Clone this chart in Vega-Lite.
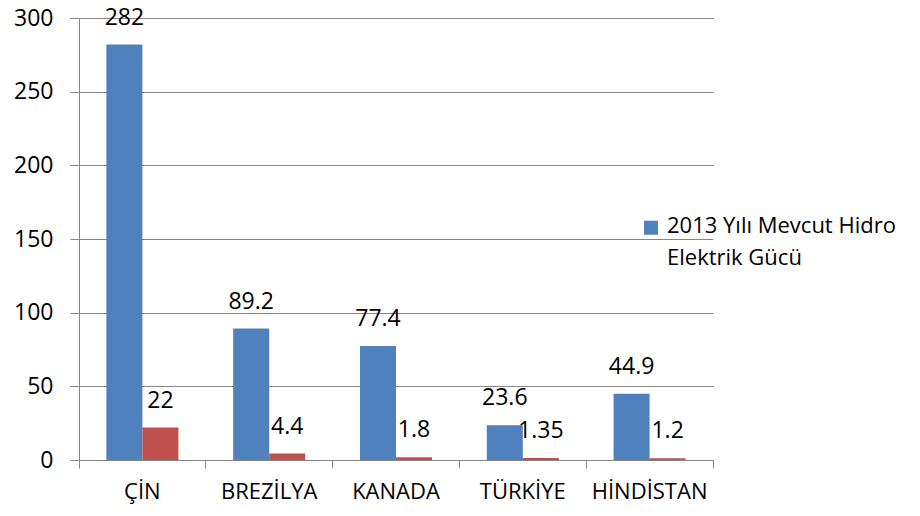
{
  "$schema": "https://vega.github.io/schema/vega-lite/v6.json",
  "width": 634,
  "height": 442,
  "autosize": {"type": "none"},
  "padding": {"left": 79, "top": 18, "right": 207, "bottom": 56},
  "background": "white",
  "data": {
    "values": [
      {"ulke": "ÇİN", "seri": "2013 Yılı Mevcut Hidro Elektrik Gücü", "deger": 282},
      {"ulke": "ÇİN", "seri": "İnşa Halindeki Hidro Elektrik Gücü", "deger": 22},
      {"ulke": "BREZİLYA", "seri": "2013 Yılı Mevcut Hidro Elektrik Gücü", "deger": 89.2},
      {"ulke": "BREZİLYA", "seri": "İnşa Halindeki Hidro Elektrik Gücü", "deger": 4.4},
      {"ulke": "KANADA", "seri": "2013 Yılı Mevcut Hidro Elektrik Gücü", "deger": 77.4},
      {"ulke": "KANADA", "seri": "İnşa Halindeki Hidro Elektrik Gücü", "deger": 1.8},
      {"ulke": "TÜRKİYE", "seri": "2013 Yılı Mevcut Hidro Elektrik Gücü", "deger": 23.6},
      {"ulke": "TÜRKİYE", "seri": "İnşa Halindeki Hidro Elektrik Gücü", "deger": 1.35},
      {"ulke": "HİNDİSTAN", "seri": "2013 Yılı Mevcut Hidro Elektrik Gücü", "deger": 44.9},
      {"ulke": "HİNDİSTAN", "seri": "İnşa Halindeki Hidro Elektrik Gücü", "deger": 1.2}
    ]
  },
  "encoding": {
    "x": {
      "field": "ulke",
      "type": "nominal",
      "sort": ["ÇİN", "BREZİLYA", "KANADA", "TÜRKİYE", "HİNDİSTAN"],
      "scale": {"paddingInner": 0, "paddingOuter": 0},
      "axis": {
        "title": null,
        "labelAngle": 0,
        "labelFont": "Open Sans",
        "labelFontSize": 22,
        "labelColor": "black",
        "labelPadding": 13,
        "bandPosition": 1,
        "tickExtra": true,
        "tickSize": 8,
        "tickColor": "#868686",
        "domainColor": "#868686",
        "grid": false
      }
    },
    "xOffset": {
      "field": "seri",
      "sort": ["2013 Yılı Mevcut Hidro Elektrik Gücü", "İnşa Halindeki Hidro Elektrik Gücü"],
      "scale": {"paddingInner": 0, "paddingOuter": 0.76}
    },
    "y": {
      "field": "deger",
      "type": "quantitative",
      "scale": {"domain": [0, 300]},
      "axis": {
        "title": null,
        "values": [0, 50, 100, 150, 200, 250, 300],
        "grid": true,
        "gridColor": "#868686",
        "domainColor": "#868686",
        "tickColor": "#868686",
        "tickSize": 9,
        "labelFont": "Open Sans",
        "labelFontSize": 23,
        "labelColor": "black",
        "labelPadding": 17
      }
    }
  },
  "layer": [
    {
      "mark": {"type": "bar"},
      "encoding": {
        "color": {
          "field": "seri",
          "type": "nominal",
          "scale": {
            "domain": ["2013 Yılı Mevcut Hidro Elektrik Gücü", "İnşa Halindeki Hidro Elektrik Gücü"],
            "range": ["#4F81BD", "#C0504D"]
          },
          "legend": {
            "orient": "none",
            "legendX": 561,
            "legendY": 204,
            "values": ["2013 Yılı Mevcut Hidro Elektrik Gücü"],
            "title": null,
            "padding": 0,
            "labelExpr": "['2013 Yılı Mevcut Hidro', 'Elektrik Gücü']",
            "labelFont": "Open Sans",
            "labelFontSize": 22,
            "labelColor": "black",
            "labelLimit": 400,
            "labelBaseline": "alphabetic",
            "labelOffset": 5,
            "symbolType": "M-1,-1.75H1V0.25H-1Z",
            "symbolSize": 196,
            "symbolStrokeWidth": 0
          }
        }
      }
    },
    {
      "mark": {"type": "text", "baseline": "alphabetic", "dy": -20, "font": "Open Sans", "fontSize": 23, "color": "black"},
      "encoding": {
        "text": {"field": "deger", "type": "nominal"}
      }
    }
  ],
  "config": {
    "view": {"stroke": null},
    "font": "Open Sans",
    "style": {"guide-label": {"lineHeight": 32}}
  }
}
